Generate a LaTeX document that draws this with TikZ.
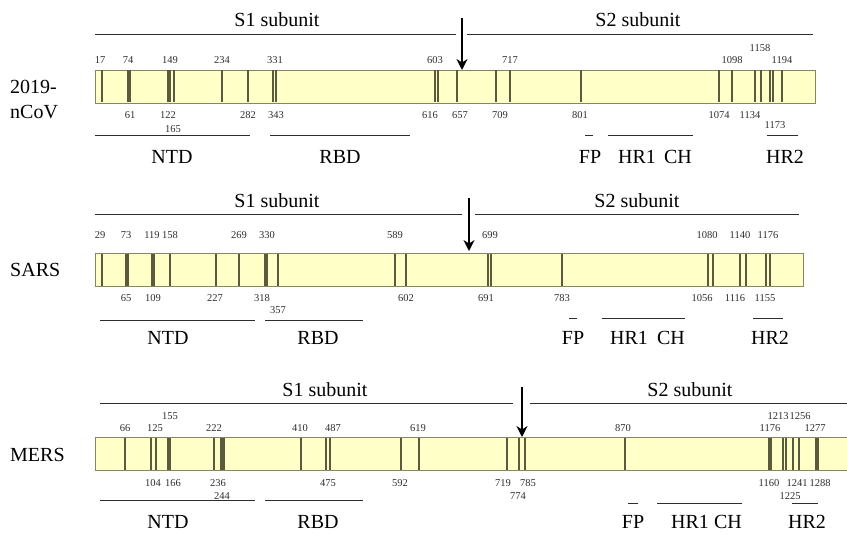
\documentclass[tikz,border=0pt]{standalone}
\usepackage{fontspec}
\setmainfont{Liberation Serif}
\usepackage{tikz}
\usetikzlibrary{arrows.meta,positioning,calc}
\definecolor{barFill} {RGB}{255,255,200}
\definecolor{barEdge} {RGB}{135,135,95}
\definecolor{tickCol} {RGB}{90,90,60}
\definecolor{lineGray}{RGB}{45,45,45}

\begin{document}
\begin{tikzpicture}[x=1pt,y=-1pt,
          bar/.style={rectangle,draw=barEdge,fill=barFill,line width=0.9pt,
                      anchor=north west,minimum height=33pt,inner sep=0pt},
          tickln/.style={tickCol,line width=1.1pt},
          num/.style={font=\fontsize{10.5}{10.5}\selectfont,text=lineGray,inner sep=0pt},
          big/.style={font=\fontsize{20}{25}\selectfont,inner sep=0pt},
          dom/.style={lineGray,line width=1pt},
          cleave/.style={-{Stealth[length=11pt,width=11pt]},black,line width=2.4pt},
        ]
        \useasboundingbox (0,0) rectangle (847,535);

        % 2019-nCoV
        \node[big,anchor=west,align=left] (lab1) at (10,100) {2019-\\nCoV};
        \node[bar,minimum width=720pt] (ncov) at (95,70) {};
        \draw[dom] (95,35)--(456,35) (467,35)--(813,35);
        \node[big] (s11) at (277,20) {S1 subunit};
        \node[big] (s21) at (638,20) {S2 subunit};
        \foreach \x in {102,128,130,168,170,174,222,248,273,276,435,438,457,
                        496,510,581,719,732,755,761,770,773,782}
          \draw[tickln] (\x,70.5)--(\x,102.5);
        \foreach \x/\t in {100/17,128/74,170/149,222/234,275/331,435/603,
                           510/717,732/1098,782/1194}
          \node[num] (a1-\t) at (\x,60) {\t};
        \node[num] (a1-1158) at (760,48) {1158};
        \foreach \x/\t in {130/61,168/122,248/282,276/343,430/616,460/657,
                           500/709,580/801,719/1074,750/1134}
          \node[num] (b1-\t) at (\x,115) {\t};
        \node[num] (b1-165) at (173,129) {165};
        \node[num] (b1-1173) at (775,125) {1173};
        \draw[dom] (95,135)--(250,135) (270,135)--(410,135)
          (585,135)--(593,135) (608,135)--(693,135) (767,135)--(798,135);
        \foreach \x/\t in {172/NTD,340/RBD,590/FP,637/HR1,678/CH,785/HR2}
          \node[big] (d1-\t) at (\x,157) {\t};
        \coordinate (cut1) at (462,18);
        \draw[cleave] (cut1) -- (cut1 |- ncov.north);

        % SARS
        \node[big,anchor=west] (lab2) at (10,270) {SARS};
        \node[bar,minimum width=708pt] (sars) at (95,253) {};
        \draw[dom] (95,214)--(462,214) (475,214)--(799,214);
        \node[big] (s12) at (277,201) {S1 subunit};
        \node[big] (s22) at (637,201) {S2 subunit};
        \foreach \x in {102,126,128,152,154,170,216,239,265,267,278,395,406,
                        488,491,562,708,713,740,746,766,770}
          \draw[tickln] (\x,253.5)--(\x,285.5);
        \foreach \x/\t in {100/29,126/73,152/119,170/158,239/269,267/330,
                           395/589,490/699,707/1080,740/1140,768/1176}
          \node[num] (a2-\t) at (\x,235) {\t};
        \foreach \x/\t in {126/65,153/109,215/227,262/318,406/602,486/691,
                           562/783,702/1056,735/1116,765/1155}
          \node[num] (b2-\t) at (\x,298) {\t};
        \node[num] (b2-357) at (278,310) {357};
        \draw[dom] (100,320)--(255,320) (265,320)--(363,320)
          (569,318)--(577,318) (602,318)--(685,318) (753,318)--(783,318);
        \foreach \x/\t in {168/NTD,318/RBD,573/FP,629/HR1,671/CH,770/HR2}
          \node[big] (d2-\t) at (\x,338) {\t};
        \coordinate (cut2) at (469,198);
        \draw[cleave] (cut2) -- ($(cut2 |- sars.north)+(0,-2)$);

        % MERS
        \node[big,anchor=west] (lab3) at (10,455) {MERS};
        \node[bar,minimum width=760pt] (mers) at (95,437) {};
        \draw[dom] (100,403)--(513,403) (530,403)--(847,403);
        \node[big] (s13) at (325,390) {S1 subunit};
        \node[big] (s23) at (690,390) {S2 subunit};
        \foreach \x in {125,151,156,168,170,214,221,222.5,224,301,326,330,401,
                        419,507,519,525,625,769,771,783,786,793,799,816,818}
          \draw[tickln] (\x,437.5)--(\x,469.5);
        \foreach \x/\t in {125/66,155/125,214/222,300/410,333/487,418/619,
                           623/870,770/1176,815/1277}
          \node[num] (a3-\t) at (\x,428) {\t};
        \node[num] (a3-155) at (170,416) {155};
        \node[num] (a3-1213) at (778,416) {1213};
        \node[num] (a3-1256) at (800,416) {1256};
        \foreach \x/\t in {153/104,173/166,218/236,328/475,400/592,503/719,
                           528/785,769/1160,797/1241,820/1288}
          \node[num] (b3-\t) at (\x,483) {\t};
        \node[num] (b3-244) at (222,496) {244};
        \node[num] (b3-774) at (518,496) {774};
        \node[num] (b3-1225) at (790,496) {1225};
        \draw[dom] (100,500)--(255,500) (265,500)--(363,500)
          (628,503)--(638,503) (657,503)--(742,503) (792,503)--(818,503);
        \foreach \x/\t in {168/NTD,318/RBD,633/FP,690/HR1,728/CH,807/HR2}
          \node[big] (d3-\t) at (\x,522) {\t};
        \coordinate (cut3) at (522,387);
        \draw[cleave] (cut3) -- (cut3 |- mers.north);
      \end{tikzpicture}
\end{document}
